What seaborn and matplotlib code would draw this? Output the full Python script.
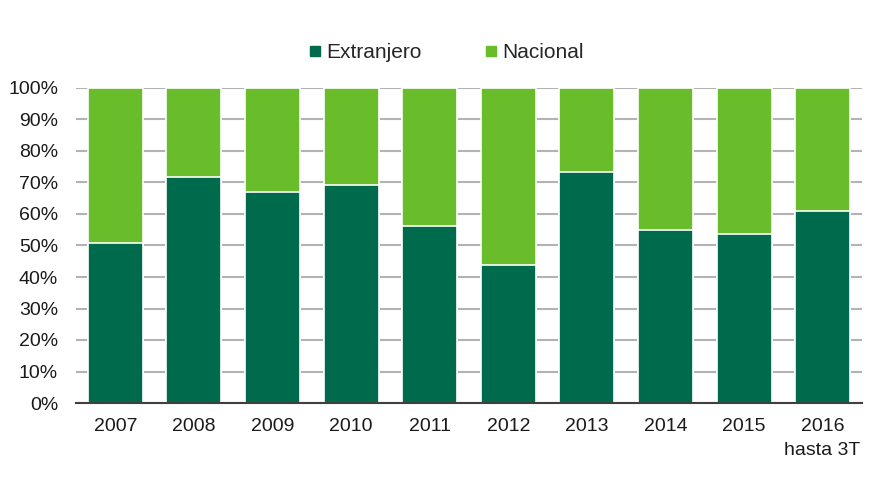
import matplotlib
matplotlib.use("Agg")
import matplotlib.pyplot as plt
import seaborn as sns
import pandas as pd
from matplotlib.lines import Line2D
from matplotlib.ticker import PercentFormatter

# Data (share of total, %)
years = ["2007", "2008", "2009", "2010", "2011", "2012", "2013", "2014", "2015", "2016\nhasta 3T"]
extranjero = [50.7, 71.8, 67.1, 69.2, 56.3, 43.8, 73.4, 54.9, 53.5, 61.0]
nacional = [100 - v for v in extranjero]

df = pd.DataFrame({"year": years, "Extranjero": extranjero, "Nacional": nacional})
df["total"] = df["Extranjero"] + df["Nacional"]

dark = "#006a4d"
light = "#6abd2a"

sns.set_theme(style="white")
plt.rcParams["font.family"] = ["Liberation Sans", "DejaVu Sans"]

fig = plt.figure(figsize=(8.75, 5), dpi=100)
ax = fig.add_axes([0.087, 0.194, 0.898, 0.63])

# stacked bars: full height in light green, then extranjero on top
sns.barplot(data=df, x="year", y="total", color=light, saturation=1, width=0.7,
            edgecolor="white", linewidth=1.2, ax=ax, zorder=3)
sns.barplot(data=df, x="year", y="Extranjero", color=dark, saturation=1, width=0.7,
            edgecolor="white", linewidth=1.2, ax=ax, zorder=4)

ax.set_ylim(0, 100)
ax.set_yticks(range(0, 101, 10))
ax.yaxis.set_major_formatter(PercentFormatter(decimals=0))
ax.yaxis.grid(True, color="#b3b3b3", linewidth=1.5, zorder=0)
ax.set_axisbelow(True)
ax.set_xlabel("")
ax.set_ylabel("")
for s in ["top", "right", "left"]:
    ax.spines[s].set_visible(False)
ax.spines["bottom"].set_color("#404040")
ax.spines["bottom"].set_linewidth(1.5)
ax.spines["bottom"].set_zorder(5)
ax.tick_params(axis="both", labelsize=14, colors="#1a1a1a", length=0)
ax.tick_params(axis="x", pad=11)
ax.tick_params(axis="y", pad=13)
for lbl in ax.get_xticklabels():
    lbl.set_linespacing(1.55)

handles = [Line2D([], [], marker="s", linestyle="", color=dark, markersize=6.5),
           Line2D([], [], marker="s", linestyle="", color=light, markersize=6.5)]
fig.legend(handles, ["Extranjero", "Nacional"], loc="center", bbox_to_anchor=(0.51, 0.895),
           ncol=2, frameon=False, fontsize=15, handlelength=0.6, handletextpad=0.25,
           columnspacing=3.0)

fig.savefig("out.png", dpi=100)
